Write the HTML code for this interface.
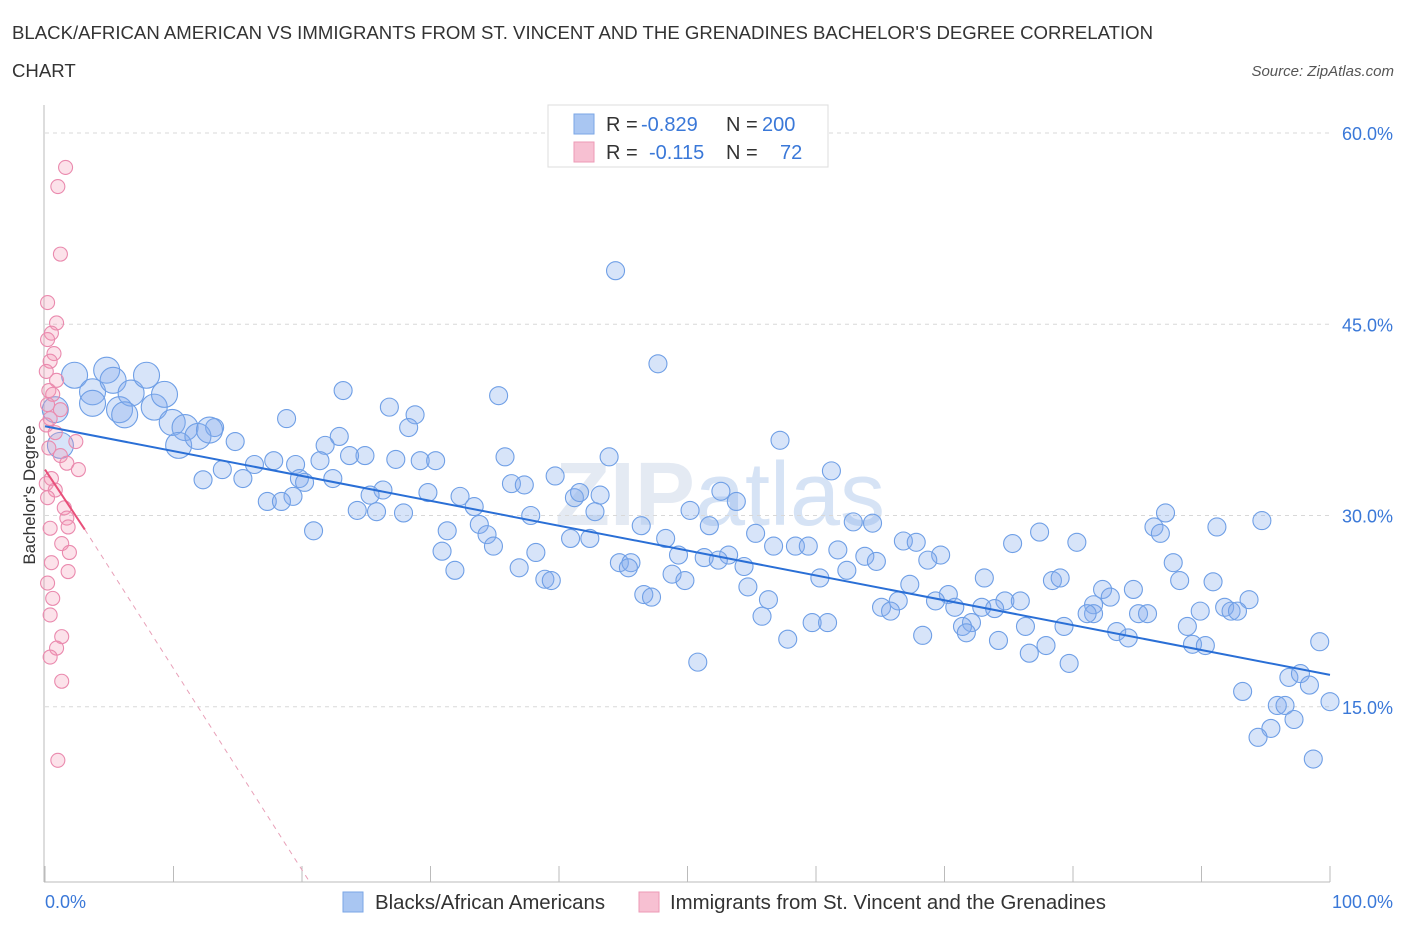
<!DOCTYPE html>
<html><head><meta charset="utf-8">
<style>
body{margin:0;background:#fff;font-family:"Liberation Sans",sans-serif;}
svg text{font-family:"Liberation Sans",sans-serif;}
</style></head>
<body>
<svg id="chart" width="1406" height="930">
<text x="12" y="39" font-size="18.6" fill="#333">BLACK/AFRICAN AMERICAN VS IMMIGRANTS FROM ST. VINCENT AND THE GRENADINES BACHELOR'S DEGREE CORRELATION</text>
<text x="12" y="77" font-size="18.6" fill="#333">CHART</text>
<text x="1394" y="76" font-size="15" fill="#555" font-style="italic" text-anchor="end">Source: ZipAtlas.com</text>
<text x="720" y="525" font-size="90" fill="#e4eaf3" text-anchor="middle" font-weight="bold">ZIP<tspan font-weight="normal" fill="#d6e3f5">atlas</tspan></text>
<g id="grid"></g>
<g id="axes"></g>
<g id="pts"></g>
<g id="lines"></g>
<text x="35" y="495" font-size="17" fill="#333" text-anchor="middle" transform="rotate(-90 35 495)">Bachelor's Degree</text>
<text x="45" y="908" font-size="18" fill="#3a78d8">0.0%</text>
<text x="1393" y="908" font-size="18" fill="#3a78d8" text-anchor="end">100.0%</text>
<g>
<rect x="548" y="105" width="280" height="62" fill="#fff" stroke="#ddd"/>
<rect x="574" y="114" width="20" height="20" fill="#a9c6f2" stroke="#7aa6e6"/>
<rect x="574" y="142" width="20" height="20" fill="#f7c0d2" stroke="#ec9ab6"/>
<text x="606" y="131" font-size="20" fill="#333">R =</text>
<text x="641" y="131" font-size="20" fill="#3a78d8">-0.829</text>
<text x="726" y="131" font-size="20" fill="#333">N =</text>
<text x="762" y="131" font-size="20" fill="#3a78d8">200</text>
<text x="606" y="159" font-size="20" fill="#333">R =</text>
<text x="649" y="159" font-size="20" fill="#3a78d8">-0.115</text>
<text x="726" y="159" font-size="20" fill="#333">N =</text>
<text x="780" y="159" font-size="20" fill="#3a78d8">72</text>
</g>
<g>
<rect x="343" y="892" width="20" height="20" fill="#a9c6f2" stroke="#7aa6e6"/>
<text x="375" y="909" font-size="20.4" fill="#333">Blacks/African Americans</text>
<rect x="639" y="892" width="20" height="20" fill="#f7c0d2" stroke="#ec9ab6"/>
<text x="670" y="909" font-size="20.4" fill="#333">Immigrants from St. Vincent and the Grenadines</text>
</g>
</svg>
<script>
const yTicks=[15,30,45,60];
const xTicks=[0,10,20,30,40,50,60,70,80,90,100];
const blueX=[44.4,47.7,35.3,23.2,26.8,28.8,18.8,28.3,57.2,22.9,21.8,14.8,13.2,35.8,24.9,23.7,27.3,29.2,30.4,43.9,61.2,39.7,36.3,37.3,21.4,19.5,17.8,16.3,13.8,12.3,15.4,19.8,22.4,20.2,26.3,25.3,29.8,32.3,19.3,17.3,18.4,41.2,43.2,41.6,52.6,53.8,33.4,24.3,25.8,27.9,42.8,50.2,87.2,94.7,91.2,62.9,64.4,37.8,33.8,46.4,51.7,86.3,77.4,86.8,20.9,31.3,34.4,55.3,40.9,42.4,48.3,66.8,67.8,75.3,80.3,56.7,58.4,59.4,34.9,30.9,38.2,49.3,51.3,53.2,61.7,63.8,64.7,69.7,68.7,52.4,44.7,45.6,45.4,54.4,36.9,31.9,48.8,62.4,38.9,39.4,49.8,60.3,73.1,78.4,79.0,88.3,90.9,87.8,67.3,54.7,82.3,84.7,46.6,47.2,70.3,82.9,93.7,56.3,66.4,69.3,74.7,75.9,81.6,65.1,65.8,70.8,72.9,73.9,91.8,89.9,92.3,92.8,85.1,85.8,81.6,81.1,55.8,72.1,79.3,76.3,59.7,60.9,71.4,88.9,83.4,84.3,71.7,68.3,74.2,57.8,89.3,90.3,77.9,76.6,99.2,79.7,50.8,93.2,96.8,97.7,98.4,100,95.9,96.5,97.2,95.4,94.4,98.7,
0.8,1.2,2.3,3.7,4.8,5.3,5.8,6.7,7.9,8.5,9.3,9.9,10.9,10.4,11.9,6.2,3.7,12.8];
const blueY=[49.2,41.9,39.4,39.8,38.5,37.9,37.6,36.9,35.9,36.2,35.5,35.8,36.9,34.6,34.7,34.7,34.4,34.3,34.3,34.6,33.5,33.1,32.5,32.4,34.3,34.0,34.3,34.0,33.6,32.8,32.9,32.9,32.9,32.6,32.0,31.6,31.8,31.5,31.5,31.1,31.1,31.4,31.6,31.8,31.9,31.1,30.7,30.4,30.3,30.2,30.3,30.4,30.2,29.6,29.1,29.5,29.4,30.0,29.3,29.2,29.2,29.1,28.7,28.6,28.8,28.8,28.5,28.6,28.2,28.2,28.2,28.0,27.9,27.8,27.9,27.6,27.6,27.6,27.6,27.2,27.1,26.9,26.7,26.9,27.3,26.8,26.4,26.9,26.5,26.5,26.3,26.3,25.9,26.0,25.9,25.7,25.4,25.7,25.0,24.9,24.9,25.1,25.1,24.9,25.1,24.9,24.8,26.3,24.6,24.4,24.2,24.2,23.8,23.6,23.8,23.6,23.4,23.4,23.3,23.3,23.3,23.3,23.0,22.8,22.5,22.8,22.8,22.7,22.8,22.5,22.5,22.5,22.3,22.3,22.3,22.3,22.1,21.6,21.3,21.3,21.6,21.6,21.3,21.3,20.9,20.4,20.8,20.6,20.2,20.3,19.9,19.8,19.8,19.2,20.1,18.4,18.5,16.2,17.3,17.6,16.7,15.4,15.1,15.1,14.0,13.3,12.6,10.9,
38.3,35.5,41.0,39.7,41.4,40.6,38.3,39.6,41.0,38.5,39.5,37.3,36.9,35.5,36.2,37.9,38.8,36.7];
const blueBig=18;
const pinkX=[1.6,1.0,1.2,0.2,0.9,0.5,0.2,0.7,0.4,0.1,0.9,0.3,0.6,0.2,1.2,0.4,0.1,0.8,2.4,0.3,1.2,1.7,2.6,0.5,0.1,0.8,0.2,1.5,1.7,0.4,1.8,1.3,1.9,0.5,1.8,0.2,0.6,0.4,1.3,0.9,0.4,1.3,1.0];
const pinkY=[57.3,55.8,50.5,46.7,45.1,44.3,43.8,42.7,42.1,41.3,40.6,39.8,39.5,38.7,38.3,37.6,37.1,36.5,35.8,35.3,34.7,34.1,33.6,32.9,32.5,32.0,31.4,30.6,29.8,29.0,29.1,27.8,27.1,26.3,25.6,24.7,23.5,22.2,20.5,19.6,18.9,17.0,10.8];
const blueTrend=[[0,37.0],[100,17.5]];
const pinkTrend=[[0,33.6],[3.1,28.9]];
const pinkDashEnd=[20.6,1.25];

const NS='http://www.w3.org/2000/svg';
const X=v=>45+v*12.85;
const Y=v=>898-v*12.75;
function mk(tag,attrs,parent){const e=document.createElementNS(NS,tag);for(const k in attrs)e.setAttribute(k,attrs[k]);document.getElementById(parent).appendChild(e);return e;}

yTicks.forEach(t=>{
  const l=mk('line',{x1:45,x2:1330,y1:Y(t),y2:Y(t),stroke:'#d8d8d8','stroke-dasharray':'4,4'},'grid');
  
  
  const tx=mk('text',{x:1393,y:Y(t)+7,'font-size':18,fill:'#3a78d8','text-anchor':'end'},'grid');
  tx.textContent=t.toFixed(1)+'%';
  
  
});
const ax=mk('line',{x1:44,x2:44,y1:105,y2:882,stroke:'#bbb'},'axes');


const bx=mk('line',{x1:44,x2:1330,y1:882,y2:882,stroke:'#bbb'},'axes');


xTicks.forEach(t=>{
  const l=mk('line',{x1:X(t),x2:X(t),y1:866,y2:882,stroke:'#bbb'},'axes');
  
  
});
blueX.forEach((v,i)=>{
  const big=i>=blueX.length-blueBig;
  const c=mk('circle',{cx:X(v),cy:Y(blueY[i]),r:big?13:9,fill:'rgba(130,170,235,0.32)',stroke:'#6f9fe6','stroke-width':1.1},'pts');
  
  
});
pinkX.forEach((v,i)=>{
  const c=mk('circle',{cx:X(v),cy:Y(pinkY[i]),r:7,fill:'rgba(245,150,180,0.28)',stroke:'#ea8aae','stroke-width':1.1},'pts');
  
  
});
const bl=mk('line',{x1:X(blueTrend[0][0]),y1:Y(blueTrend[0][1]),x2:X(blueTrend[1][0]),y2:Y(blueTrend[1][1]),stroke:'#2a6fd6','stroke-width':2},'lines');


const pl=mk('line',{x1:X(pinkTrend[0][0]),y1:Y(pinkTrend[0][1]),x2:X(pinkTrend[1][0]),y2:Y(pinkTrend[1][1]),stroke:'#e8507a','stroke-width':2},'lines');


const pd=mk('line',{x1:X(pinkTrend[1][0]),y1:Y(pinkTrend[1][1]),x2:X(pinkDashEnd[0]),y2:Y(pinkDashEnd[1]),stroke:'#e8a0b8','stroke-width':1,'stroke-dasharray':'5,5'},'lines');


</script>
</body></html>
